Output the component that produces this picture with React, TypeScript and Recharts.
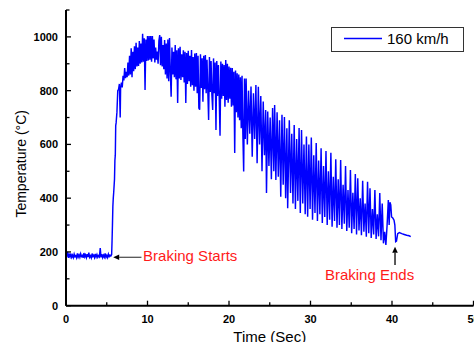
import React from 'react';
import { LineChart, Line, XAxis, YAxis, ReferenceDot, ReferenceLine, Legend } from 'recharts';

// [time (s), temperature (°C)]
const baselineSeg: [number, number][] = [
  [0, 195], [0.1, 183], [0.2, 200], [0.3, 178], [0.4, 190], [0.5, 182], [0.6, 194], [0.7, 180],
  [0.8, 188], [0.9, 179], [1.0, 192], [1.1, 182], [1.2, 186], [1.3, 178], [1.4, 195], [1.5, 181],
  [1.6, 189], [1.7, 180], [1.8, 193], [1.9, 183], [2.0, 187], [2.1, 178], [2.2, 196], [2.3, 182],
  [2.4, 189], [2.5, 179], [2.6, 192], [2.7, 181], [2.8, 197], [2.9, 180], [3.0, 186], [3.1, 178],
  [3.2, 194], [3.3, 183], [3.4, 188], [3.5, 179], [3.6, 193], [3.7, 181], [3.8, 190], [3.9, 180],
  [4.0, 186], [4.1, 182], [4.2, 214], [4.3, 180], [4.4, 192], [4.5, 179], [4.6, 188], [4.7, 181],
  [4.8, 195], [4.9, 180], [5.0, 187], [5.1, 179], [5.2, 192], [5.3, 183], [5.4, 188], [5.5, 185],
  [5.6, 190],
];

const riseSeg: [number, number][] = [
  [5.65, 240], [5.7, 300], [5.75, 370], [5.8, 400], [5.85, 420], [5.95, 470], [6.0, 540],
  [6.05, 560], [6.1, 670], [6.15, 680], [6.25, 720], [6.35, 800], [6.45, 805], [6.55, 825],
  [6.65, 700], [6.7, 810],
];

const plateauSeg: [number, number][] = [
  [6.8, 830], [6.9, 812], [7.0, 855], [7.1, 838], [7.2, 884], [7.3, 846], [7.4, 870], [7.5, 850],
  [7.6, 905], [7.7, 856], [7.8, 930], [7.9, 860], [8.0, 958], [8.1, 850], [8.2, 945], [8.3, 872],
  [8.4, 965], [8.5, 880], [8.6, 978], [8.7, 890], [8.8, 960], [8.9, 892], [9.0, 985], [9.1, 900],
  [9.2, 975], [9.3, 905], [9.4, 1012], [9.5, 908], [9.6, 995], [9.7, 802], [9.8, 990], [9.9, 910],
  [10.0, 1003], [10.1, 912], [10.2, 1003], [10.3, 915], [10.4, 1003], [10.5, 908], [10.6, 1003],
  [10.7, 920], [10.8, 990], [10.9, 905], [11.0, 960], [11.1, 915], [11.2, 945], [11.3, 900],
  [11.4, 985], [11.5, 1007], [11.6, 895], [11.7, 1000], [11.8, 890], [11.9, 970], [12.0, 880],
  [12.1, 988], [12.2, 860], [12.3, 975], [12.4, 845], [12.5, 990], [12.6, 835], [12.7, 996],
  [12.8, 870], [12.9, 777], [13.0, 960], [13.1, 860], [13.2, 945], [13.3, 850], [13.4, 970],
  [13.5, 842], [13.6, 950], [13.7, 754], [13.8, 958], [13.9, 845], [14.0, 963], [14.1, 840],
  [14.2, 935], [14.3, 850], [14.4, 950], [14.5, 830], [14.6, 945], [14.7, 754], [14.8, 940],
  [14.9, 825], [15.0, 948], [15.1, 835], [15.2, 930], [15.3, 815], [15.4, 951], [15.5, 820],
  [15.6, 925], [15.7, 800], [15.8, 938], [15.9, 815], [16.0, 940], [16.1, 790], [16.2, 930],
  [16.3, 735], [16.4, 729], [16.5, 935], [16.6, 810], [16.7, 920], [16.8, 759], [16.9, 930],
  [17.0, 805], [17.1, 933], [17.2, 790], [17.3, 915], [17.4, 800], [17.5, 691], [17.6, 925],
  [17.7, 795], [17.8, 910], [17.9, 785], [18.0, 728], [18.1, 920], [18.2, 790], [18.3, 905],
  [18.4, 654], [18.5, 910], [18.6, 780], [18.7, 895], [18.8, 775], [18.9, 632], [19.0, 908],
  [19.1, 770], [19.2, 900], [19.3, 780], [19.4, 895], [19.5, 740], [19.6, 914], [19.7, 765],
  [19.8, 900], [19.9, 755], [20.0, 890], [20.1, 770], [20.2, 885], [20.3, 740], [20.4, 884],
  [20.5, 745], [20.6, 870], [20.7, 568], [20.8, 875], [20.9, 720], [21.0, 865], [21.1, 700],
  [21.2, 860], [21.3, 690], [21.4, 850], [21.5, 660], [21.6, 855], [21.7, 640], [21.8, 499],
  [21.9, 845], [22.0, 620],
];

const coolingSeg: [number, number][] = [
  [22.1, 845], [22.25, 600], [22.4, 800], [22.55, 640], [22.7, 815], [22.85, 554], [23.0, 790],
  [23.15, 620], [23.3, 821], [23.45, 530], [23.6, 814], [23.75, 600], [23.9, 780], [24.05, 500],
  [24.2, 760], [24.35, 560], [24.5, 728], [24.6, 419], [24.75, 722], [24.9, 520], [25.05, 700],
  [25.2, 470], [25.35, 735], [25.5, 500], [25.6, 747], [25.75, 468], [25.9, 720], [26.05, 480],
  [26.2, 690], [26.35, 405], [26.5, 710], [26.65, 450], [26.8, 702], [26.95, 400], [27.1, 660],
  [27.2, 363], [27.4, 690], [27.55, 419], [27.7, 640], [27.85, 380], [28.0, 672], [28.15, 360],
  [28.3, 620], [28.45, 390], [28.6, 661], [28.75, 345], [28.9, 654], [29.05, 380], [29.2, 600],
  [29.35, 340], [29.5, 629], [29.65, 331], [29.8, 600], [29.95, 360], [30.1, 626], [30.25, 320],
  [30.4, 560], [30.55, 345], [30.7, 605], [30.85, 315], [31.0, 540], [31.15, 340], [31.3, 586],
  [31.45, 308], [31.6, 520], [31.75, 330], [31.9, 575], [32.05, 300], [32.2, 500], [32.35, 320],
  [32.5, 569], [32.65, 294], [32.8, 480], [32.95, 315], [33.1, 545], [33.25, 290], [33.4, 470],
  [33.55, 300], [33.7, 542], [33.85, 285], [34.0, 450], [34.15, 305], [34.3, 520], [34.45, 278],
  [34.6, 430], [34.75, 290], [34.9, 505], [35.05, 270], [35.2, 420], [35.35, 285], [35.5, 490],
  [35.65, 265], [35.8, 474], [35.95, 280], [36.1, 400], [36.25, 262], [36.4, 465], [36.55, 275],
  [36.7, 380], [36.85, 257], [37.0, 461], [37.15, 270], [37.3, 437], [37.45, 252], [37.6, 360],
  [37.75, 265], [37.9, 430], [38.05, 248], [38.2, 340], [38.35, 258], [38.5, 419], [38.65, 244],
  [38.8, 380], [38.95, 232], [39.1, 275], [39.25, 226],
];

const endSeg: [number, number][] = [
  [39.4, 300], [39.55, 393], [39.65, 300], [39.75, 385], [39.85, 375], [39.95, 330], [40.1, 326],
  [40.25, 318], [40.35, 300], [40.45, 238], [40.55, 240], [40.7, 268], [40.9, 272], [41.2, 268],
  [41.5, 265], [41.8, 262], [42.1, 260], [42.3, 257],
];

const xTicks = [0, 5, 10, 15, 20, 25, 30, 35, 40, 45, 50];
const xLabelTicks = [0, 10, 20, 30, 40, 50];
const yTicks = [0, 100, 200, 300, 400, 500, 600, 700, 800, 900, 1000, 1100];
const yLabelTicks = [0, 200, 400, 600, 800, 1000];

const seriesName = '160 km/h';
const startNote = { text: 'Braking Starts', at: [9.46, 166], arrowFrom: [9.26, 180], arrowTo: [5.79, 180] };
const endNote = { text: 'Braking Ends', at: [31.77, 94], arrowFrom: [40.37, 151], arrowTo: [40.37, 219] };

const data = [...baselineSeg, ...riseSeg, ...plateauSeg, ...coolingSeg, ...endSeg].map(([t, v]) => ({ t, v }));

const FONT = '"Liberation Sans", Arial, Helvetica, sans-serif';

const BottomTick = (props: any) => {
  const { x, y, payload } = props;
  const major = xLabelTicks.includes(payload.value);
  return (
    <g>
      <line x1={x} x2={x} y1={y} y2={y - (major ? 5 : 3.5)} stroke="#000" strokeWidth={1.3} />
      {major && (
        <text x={x} y={y + 17.5} textAnchor="middle" fontSize={11} fontWeight="bold" fontFamily={FONT} fill="#000">
          {payload.value}
        </text>
      )}
    </g>
  );
};

const TopTick = (props: any) => {
  const { x, y, payload } = props;
  const major = xLabelTicks.includes(payload.value);
  return <line x1={x} x2={x} y1={y} y2={y + (major ? 5 : 3.5)} stroke="#000" strokeWidth={1} />;
};

const LeftTick = (props: any) => {
  const { x, y, payload } = props;
  const major = yLabelTicks.includes(payload.value);
  return (
    <g>
      <line x1={x} x2={x + (major ? 5 : 3.5)} y1={y} y2={y} stroke="#000" strokeWidth={1.3} />
      {major && (
        <text x={x - 8} y={y + 4} textAnchor="end" fontSize={11} fontWeight="bold" fontFamily={FONT} fill="#000">
          {payload.value}
        </text>
      )}
    </g>
  );
};

const RightTick = (props: any) => {
  const { x, y, payload } = props;
  const major = yLabelTicks.includes(payload.value);
  return <line x1={x} x2={x - (major ? 5 : 3.5)} y1={y} y2={y} stroke="#000" strokeWidth={1} />;
};

const XTitle = (props: any) => {
  const vb = props.viewBox || {};
  const cx = vb.x + vb.width / 2;
  return (
    <text x={cx} y={341.5} textAnchor="middle" fontSize={15} fontFamily={FONT} fill="#000">
      Time (Sec)
    </text>
  );
};

const YTitle = (props: any) => {
  const vb = props.viewBox || {};
  const cy = vb.y + vb.height / 2 + 6;
  const x = 26.5;
  return (
    <text x={x} y={cy} transform={`rotate(-90, ${x}, ${cy})`} textAnchor="middle" fontSize={14} fontFamily={FONT} fill="#000">
      Temperature (°C)
    </text>
  );
};

const Arrow = (color: string) => (props: any) => {
  const { x1, y1, x2, y2 } = props;
  const dx = x2 - x1;
  const dy = y2 - y1;
  const len = Math.sqrt(dx * dx + dy * dy) || 1;
  const ux = dx / len;
  const uy = dy / len;
  const hl = 6;
  const hw = 2.8;
  const bx = x2 - ux * hl;
  const by = y2 - uy * hl;
  return (
    <g>
      <line x1={x1} y1={y1} x2={bx} y2={by} stroke={color} strokeWidth={1.3} />
      <polygon
        points={`${x2},${y2} ${bx - uy * hw},${by + ux * hw} ${bx + uy * hw},${by - ux * hw}`}
        fill="#000"
      />
    </g>
  );
};

const NoteText = (text: string) => (props: any) => (
  <text x={props.cx} y={props.cy} fontSize={15} fontFamily={FONT} fill="#ff1a1a">
    {text}
  </text>
);

const LegendBox = () => (
  <svg width={133} height={25} style={{ display: 'block' }}>
    <rect x={0.5} y={0.5} width={132} height={24} fill="#fff" stroke="#333" strokeWidth={1} />
    <line x1={13} x2={51} y1={11.5} y2={11.5} stroke="#0000ff" strokeWidth={1.3} />
    <text x={56} y={16.5} fontSize={15} fontFamily={FONT} fill="#000">
      {seriesName}
    </text>
  </svg>
);

export default function App() {
  return (
    <div style={{ position: 'absolute', left: 0, top: 0, width: 474, height: 342, background: '#fff' }}>
      <LineChart width={474} height={342} data={data} margin={{ top: 10, right: 0.5, bottom: 0, left: 0 }}>
        <XAxis
          xAxisId="bottom"
          dataKey="t"
          type="number"
          domain={[0, 50]}
          ticks={xTicks}
          interval={0}
          height={36.3}
          tickSize={0}
          tickMargin={0}
          tickLine={false}
          tick={<BottomTick />}
          axisLine={{ stroke: '#000', strokeWidth: 2 }}
          label={<XTitle />}
        />
        <XAxis
          xAxisId="top"
          orientation="top"
          dataKey="t"
          type="number"
          domain={[0, 50]}
          ticks={xTicks}
          interval={0}
          height={0}
          tickSize={0}
          tickMargin={0}
          tickLine={false}
          tick={<TopTick />}
          axisLine={{ stroke: '#000', strokeWidth: 1.2 }}
        />
        <YAxis
          yAxisId="left"
          type="number"
          domain={[0, 1100]}
          ticks={yTicks}
          interval={0}
          width={66}
          tickSize={0}
          tickMargin={0}
          tickLine={false}
          tick={<LeftTick />}
          axisLine={{ stroke: '#000', strokeWidth: 2 }}
          label={<YTitle />}
        />
        <YAxis
          yAxisId="right"
          orientation="right"
          type="number"
          domain={[0, 1100]}
          ticks={yTicks}
          interval={0}
          width={0}
          tickSize={0}
          tickMargin={0}
          tickLine={false}
          tick={<RightTick />}
          axisLine={{ stroke: '#000', strokeWidth: 1.2 }}
        />
        <Line
          xAxisId="bottom"
          yAxisId="left"
          type="linear"
          dataKey="v"
          name={seriesName}
          stroke="#0000ff"
          strokeWidth={1.45}
          dot={false}
          isAnimationActive={false}
        />
        <ReferenceLine
          xAxisId="bottom"
          yAxisId="left"
          segment={[
            { x: startNote.arrowFrom[0], y: startNote.arrowFrom[1] },
            { x: startNote.arrowTo[0], y: startNote.arrowTo[1] },
          ]}
          shape={Arrow('#555')}
        />
        <ReferenceLine
          xAxisId="bottom"
          yAxisId="left"
          segment={[
            { x: endNote.arrowFrom[0], y: endNote.arrowFrom[1] },
            { x: endNote.arrowTo[0], y: endNote.arrowTo[1] },
          ]}
          shape={Arrow('#000')}
        />
        <ReferenceDot xAxisId="bottom" yAxisId="left" x={startNote.at[0]} y={startNote.at[1]} r={0} shape={NoteText(startNote.text)} />
        <ReferenceDot xAxisId="bottom" yAxisId="left" x={endNote.at[0]} y={endNote.at[1]} r={0} shape={NoteText(endNote.text)} />
        <Legend
          layout="horizontal"
          verticalAlign="middle"
          align="center"
          wrapperStyle={{ left: 331, top: 26.5, width: 133, height: 25 }}
          content={<LegendBox />}
        />
      </LineChart>
    </div>
  );
}
